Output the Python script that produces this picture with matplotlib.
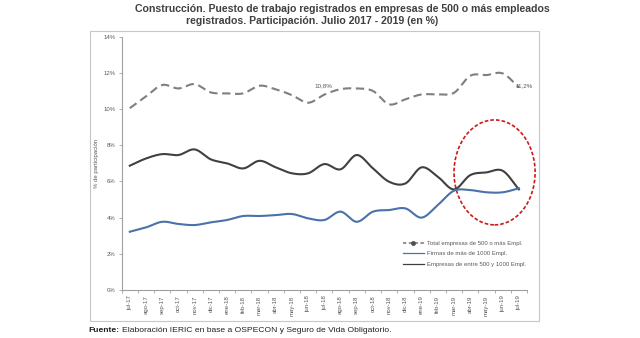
import numpy as np
import matplotlib
matplotlib.use("Agg")
import matplotlib.pyplot as plt
from matplotlib.lines import Line2D
from matplotlib.patches import Rectangle, Ellipse

plt.rcParams['font.family'] = ['Liberation Sans', 'DejaVu Sans']

months = ["jul-17", "ago-17", "sep-17", "oct-17", "nov-17", "dic-17", "ene-18", "feb-18",
          "mar-18", "abr-18", "may-18", "jun-18", "jul-18", "ago-18", "sep-18", "oct-18",
          "nov-18", "dic-18", "ene-19", "feb-19", "mar-19", "abr-19", "may-19", "jun-19", "jul-19"]

total_500 = [10.05, 10.7, 11.33, 11.14, 11.38, 10.92, 10.87, 10.87, 11.29, 11.09, 10.77, 10.35,
             10.8, 11.1, 11.14, 11.0, 10.26, 10.54, 10.81, 10.81, 10.9, 11.84, 11.88, 11.97, 11.2]
dark_series = [6.87, 7.27, 7.51, 7.46, 7.77, 7.22, 7.0, 6.72, 7.14, 6.78, 6.45, 6.45,
               6.96, 6.67, 7.46, 6.72, 5.98, 5.89, 6.78, 6.26, 5.56, 6.35, 6.5, 6.59, 5.56]
blue_series = [3.22, 3.46, 3.77, 3.65, 3.59, 3.74, 3.87, 4.09, 4.09, 4.14, 4.2, 3.96,
               3.87, 4.33, 3.77, 4.33, 4.42, 4.51, 4.0, 4.7, 5.49, 5.52, 5.4, 5.4, 5.62]

title_l1 = "Construcción. Puesto de trabajo registrados en empresas de 500 o más empleados"
title_l2 = "registrados. Participación. Julio 2017 - 2019 (en %)"
lab_total = "Total empresas de 500 o más Empl."
lab_firmas = "Firmas de más de 1000 Empl."
lab_entre = "Empresas de entre 500 y 1000 Empl."
ann_first = "10,8%"
ann_last = "11,2%"
source_bold = "Fuente:"
source_rest = "Elaboración IERIC en base a OSPECON y Seguro de Vida Obligatorio."


def smooth(y, n=20):
    y = np.asarray(y, float)
    x = np.arange(len(y), dtype=float)
    p = np.concatenate([[2 * y[0] - y[1]], y, [2 * y[-1] - y[-2]]])
    xs, ys = [], []
    for i in range(len(y) - 1):
        p0, p1, p2, p3 = p[i], p[i + 1], p[i + 2], p[i + 3]
        t = np.linspace(0, 1, n, endpoint=False)
        yy = 0.5 * ((2 * p1) + (-p0 + p2) * t + (2 * p0 - 5 * p1 + 4 * p2 - p3) * t ** 2
                    + (-p0 + 3 * p1 - 3 * p2 + p3) * t ** 3)
        xs.append(x[i] + t)
        ys.append(yy)
    xs.append([x[-1]])
    ys.append([y[-1]])
    return np.concatenate(xs), np.concatenate(ys)


W, H = 640, 338
fig = plt.figure(figsize=(6.4, 3.38), dpi=100)

# outer chart frame
fig.patches.append(Rectangle((90 / W, 1 - 321 / H), (539 - 90) / W, (321 - 31) / H,
                             transform=fig.transFigure, fill=False, edgecolor='#c8c8c8', lw=0.8))

ax = fig.add_axes([121.7 / W, 1 - 290 / H, (527 - 121.7) / W, (290 - 36.7) / H])

gray = '#7f7f7f'
dark = '#404040'
blue = '#4a72a8'

x, y = smooth(total_500)
ax.plot(x, y, color=gray, lw=1.5, dashes=(4, 2.2))
x, y = smooth(dark_series)
ax.plot(x, y, color=dark, lw=1.5)
x, y = smooth(blue_series)
ax.plot(x, y, color=blue, lw=1.5)

ax.set_xlim(-0.5, len(months) - 0.5)
ax.set_ylim(0, 14)
ax.set_yticks(np.arange(0, 15, 2))
ax.set_yticklabels([f"{v}%" for v in range(0, 15, 2)], fontsize=4.3, color='#595959')
ax.set_xticks(np.arange(len(months)))
ax.set_xticklabels(months, rotation=90, fontsize=4.3, color='#595959')
ax.set_xticks(np.arange(len(months) + 1) - 0.5, minor=True)
ax.tick_params(axis='x', which='major', length=0, pad=4)
ax.tick_params(axis='x', which='minor', length=2.5, color='#a0a0a0', width=0.6)
ax.tick_params(axis='y', length=2.5, color='#a0a0a0', width=0.6, pad=2)
for s in ['top', 'right']:
    ax.spines[s].set_visible(False)
for s in ['left', 'bottom']:
    ax.spines[s].set_color('#a0a0a0')
    ax.spines[s].set_linewidth(0.8)

ax.set_ylabel("% de participación", fontsize=4.3, color='#595959', labelpad=3)

ax.text(11.95, total_500[12] + 0.35, ann_first, fontsize=4.5, color='#595959',
        ha='center', va='bottom')
ax.text(24.3, total_500[24] + 0.1, ann_last, fontsize=4.5, color='#595959',
        ha='center', va='center')

ax.add_patch(Ellipse((22.5, 6.5), 5.0, 5.8, fill=False, edgecolor='#d01818',
                     lw=1.2, linestyle=(0, (2.2, 1.2)), clip_on=False))

handles = [Line2D([], [], color=gray, lw=1.2, linestyle=(0, (2, 1.5)), marker='o',
                  markersize=2.5, markerfacecolor='#505050', markeredgecolor='#505050'),
           Line2D([], [], color=blue, lw=0.9),
           Line2D([], [], color=dark, lw=0.9)]
leg = ax.legend(handles, [lab_total, lab_firmas, lab_entre], loc='lower right',
                bbox_to_anchor=(1.01, 0.07), fontsize=4.3, frameon=False,
                handlelength=3.5, handletextpad=0.5, labelspacing=0.9)
for t in leg.get_texts():
    t.set_color('#595959')

fig.text(135 / W, 1 - 9 / H, title_l1, fontsize=7.6, fontweight='bold', color='#404040',
         ha='left', va='center')
fig.text(186 / W, 1 - 21 / H, title_l2, fontsize=7.6, fontweight='bold', color='#404040',
         ha='left', va='center')

t_src = fig.text(88 / W, 1 - 330 / H, source_bold, fontsize=6.1, fontweight='bold',
                 color='#202020', ha='left', va='center')
fig.canvas.draw()
bb = t_src.get_window_extent()
fig.text((bb.x1 + 2.5) / W, 1 - 330 / H, source_rest,
         fontsize=6.1, color='#202020', ha='left', va='center')

fig.savefig("out.png", dpi=100, facecolor='white')
